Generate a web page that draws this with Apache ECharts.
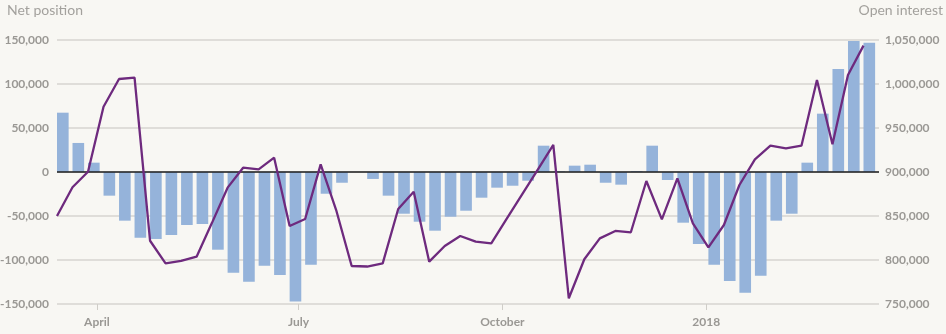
<!DOCTYPE html>
<html>
<head>
<meta charset="utf-8">
<script src="https://cdn.jsdelivr.net/npm/echarts@6/dist/echarts.min.js"></script>
<style>
html,body{margin:0;padding:0;background:#f8f7f3;}
#chart{width:946px;height:334px;}
</style>
</head>
<body>
<div id="chart"></div>
<script>
// Weekly report dates (Tuesdays), starting 2017-03-14
var startDate = '2017-03-14';
var weekCount = 53;

// Net position (left axis), one value per week
var netPosition = [
  67400, 33000, 10600, -26900, -55300, -74600, -76100, -71600, -60200, -59100,
  -88300, -114400, -124600, -106400, -117000, -147300, -105300, -24700, -12200, 0,
  -7900, -26900, -47400, -56500, -66700, -50800, -44000, -29200, -17800, -15600,
  -9900, 29900, 800, 7200, 8300, -12200, -14400, 1000, 29900, -9100,
  -57600, -81800, -105300, -123900, -137100, -117800, -55300, -47400, 10600, 66300,
  117000, 148900, 146900
];

// Open interest (right axis), one value per week
var openInterest = [
  850000, 882600, 900300, 974200, 1005700, 1007200, 821900, 796200, 798900, 803800,
  842500, 882200, 904900, 903000, 916300, 838600, 846600, 908700, 856800, 793200,
  792600, 796200, 858000, 877600, 798100, 815900, 827300, 820800, 819000, 847000,
  874800, 902700, 930700, 756500, 800800, 824600, 833000, 831500, 889800, 846200,
  892800, 841700, 814400, 839800, 885200, 914400, 929900, 926900, 929900, 1004500,
  931500, 1010200, 1043600
];

// X axis tick labels
var tickDates = ['2017-04-01', '2017-07-01', '2017-10-01', '2018-01-01'];
var tickLabels = ['April', 'July', 'October', '2018'];

// Y axis ticks
var leftTicks = [-150000, -100000, -50000, 0, 50000, 100000, 150000];
var rightTicks = [750000, 800000, 850000, 900000, 950000, 1000000, 1050000];

var DAY = 24 * 3600 * 1000;
var WEEK = 7 * DAY;
function parseUTC(s) { var p = s.split('-'); return Date.UTC(+p[0], +p[1] - 1, +p[2]); }
var t0 = parseUTC(startDate);
var weekDates = [];
for (var i = 0; i < weekCount; i++) weekDates.push(t0 + i * WEEK);
var tickTimes = tickDates.map(parseUTC);

var lineData = weekDates.map(function (d, i) { return [d, openInterest[i]]; });
// Bars occupy the first 75% of each week, starting at the report date
var barData = weekDates.map(function (d, i) { return [d + 0.375 * WEEK, netPosition[i]]; });

var grey = '#9a9894';
var fontFam = 'Lato, "Open Sans", sans-serif';

var chart = echarts.init(document.getElementById('chart'), null, { renderer: 'canvas' });
chart.setOption({
  backgroundColor: '#f8f7f3',
  animation: false,
  grid: { left: 57, right: 67, top: 40, bottom: 30, containLabel: false, outerBoundsMode: 'none' },
  graphic: [
    { type: 'text', left: 7, top: 3, style: { text: 'Net position', fill: '#a3a19d', font: '14px ' + fontFam } },
    { type: 'text', right: 3, top: 3, style: { text: 'Open interest', fill: '#a3a19d', font: '14px ' + fontFam } }
  ],
  xAxis: {
    type: 'value',
    min: t0,
    max: t0 + weekCount * WEEK,
    axisLine: { show: false, onZero: false },
    splitLine: { show: false },
    axisTick: { show: true, length: 6, customValues: tickTimes, lineStyle: { color: '#cfcdc8', width: 1 } },
    axisLabel: {
      customValues: tickTimes,
      color: grey, fontWeight: 'bold', fontSize: 12, fontFamily: fontFam, margin: 12,
      formatter: function (v) {
        for (var k = 0; k < tickTimes.length; k++) if (Math.abs(tickTimes[k] - v) < DAY) return tickLabels[k];
        return '';
      }
    }
  },
  yAxis: [
    {
      type: 'value', position: 'left',
      min: leftTicks[0], max: leftTicks[leftTicks.length - 1], interval: 50000,
      axisLine: { show: false }, axisTick: { show: false },
      splitLine: { show: true, lineStyle: { color: '#d7d5d1', width: 1.5 } },
      axisLabel: {
        color: grey, fontWeight: 'bold', fontSize: 12, fontFamily: fontFam, margin: 8,
        formatter: function (v) { return v.toLocaleString('en-US'); }
      }
    },
    {
      type: 'value', position: 'right',
      min: rightTicks[0], max: rightTicks[rightTicks.length - 1], interval: 50000,
      axisLine: { show: false }, axisTick: { show: false },
      splitLine: { show: false },
      axisLabel: {
        color: grey, fontWeight: 'bold', fontSize: 12, fontFamily: fontFam, margin: 6,
        formatter: function (v) { return v.toLocaleString('en-US'); }
      }
    }
  ],
  series: [
    {
      name: 'Net position', type: 'bar', xAxisIndex: 0, yAxisIndex: 0,
      data: barData, barWidth: '75%',
      itemStyle: { color: '#95b3da' },
      markLine: {
        silent: true, symbol: 'none',
        label: { show: false },
        lineStyle: { color: '#1e1e1e', width: 1.5, type: 'solid' },
        data: [{ yAxis: 0 }]
      }
    },
    {
      name: 'Open interest', type: 'line', xAxisIndex: 0, yAxisIndex: 1,
      data: lineData, symbol: 'none',
      lineStyle: { color: '#6e2a7e', width: 2.3 },
      z: 5
    }
  ]
});
</script>
</body>
</html>
